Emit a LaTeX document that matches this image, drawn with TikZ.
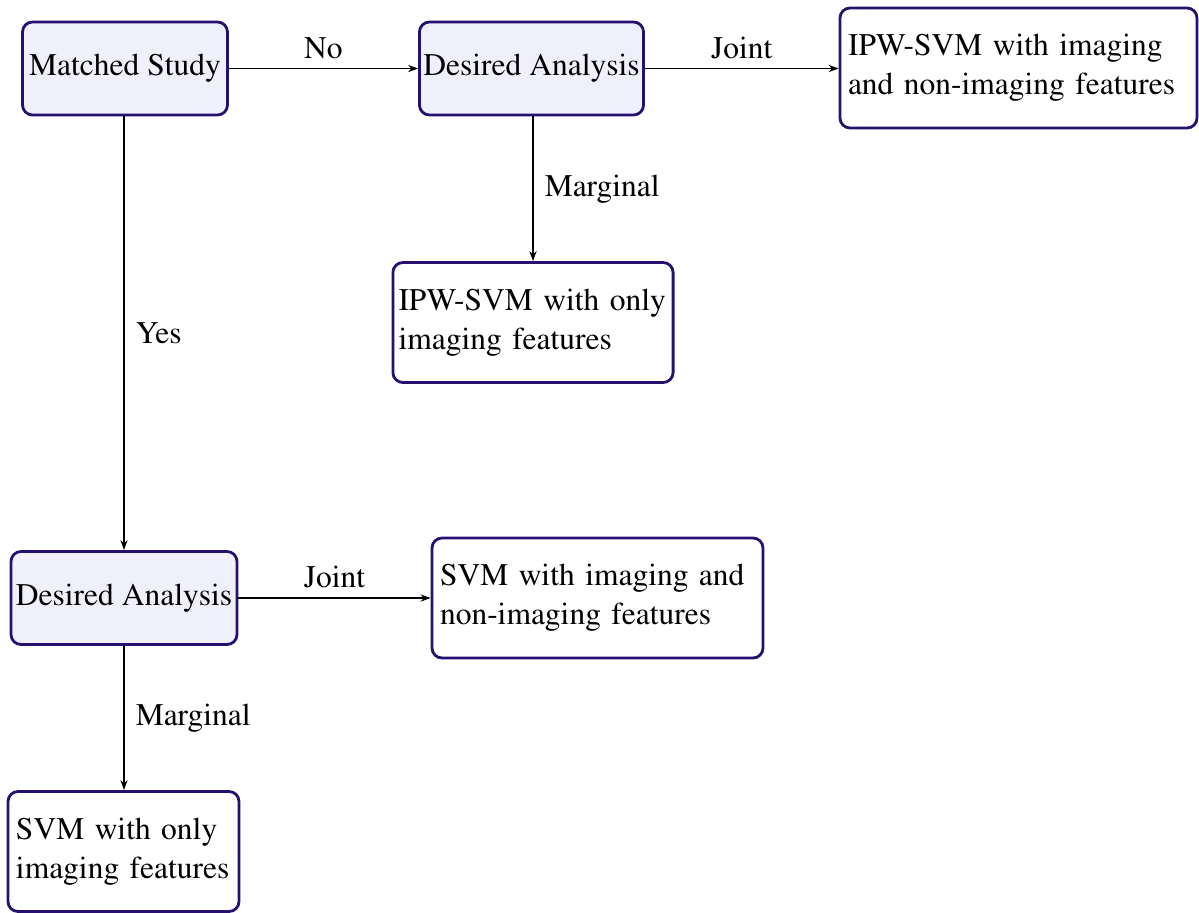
\documentclass[tikz,border=0pt]{standalone}
\usepackage[T1]{fontenc}
\renewcommand{\rmdefault}{ptm}
\usetikzlibrary{arrows.meta}
\definecolor{boxborder}{RGB}{38,16,112}
\definecolor{boxfill}{RGB}{240,240,252}
\begin{document}
\begin{tikzpicture}[x=0.5pt,y=-0.5pt,
  every node/.style={font=\rmfamily\fontsize{15.75pt}{19.5pt}\selectfont},
  decision/.style={draw=boxborder, fill=boxfill, line width=1.4pt, rounded corners=5pt,
    minimum height=46.5pt, inner xsep=2pt, align=center},
  result/.style={draw=boxborder, fill=white, line width=1.4pt, rounded corners=5pt,
    minimum height=60pt, inner xsep=4pt, align=left},
  conn/.style={draw=black, line width=0.75pt, -{Stealth[length=5pt,width=3.6pt]}},
  lblh/.style={above, inner sep=4.5pt},
  lblv/.style={right, inner sep=3pt, xshift=2.5pt}
]
\useasboundingbox (0,0) rectangle (1199,912);

\node[decision, minimum width=102.5pt] (ms) at (125,68.5) {Matched Study};
\node[decision, minimum width=111.5pt] (da1) at (531.5,68.5) {Desired Analysis};
\node[result, text width=170.5pt] (r1) at (1018.5,68) {IPW-SVM with imaging\\and non-imaging features};
\node[result, text width=134.5pt, inner xsep=2.8pt] (r2) at (533,322.5) {IPW-SVM with only\\imaging features};
\node[result, text width=157.5pt] (r3) at (597.5,598) {SVM with imaging and\\non-imaging features};
\node[decision, minimum width=113pt] (da2) at (124,598) {Desired Analysis};
\node[result, text width=107.5pt] (r4) at (123.5,851.5) {SVM with only\\imaging features};

\draw[conn] (ms.east) -- node[lblh] (lno) {No} (da1.west);
\draw[conn] (da1.east) -- node[lblh] (lj1) {Joint} (r1.west |- da1.east);
\draw[conn] (da1.south -| r2.north) -- node[lblv] (lm1) {Marginal} (r2.north);
\draw[conn] (ms.south -| da2.north) -- node[lblv] (lyes) {Yes} (da2.north);
\draw[conn] (da2.east) -- node[lblh] (lj2) {Joint} (r3.west |- da2.east);
\draw[conn] (da2.south) -- node[lblv] (lm2) {Marginal} (r4.north -| da2.south);
\end{tikzpicture}
\end{document}
